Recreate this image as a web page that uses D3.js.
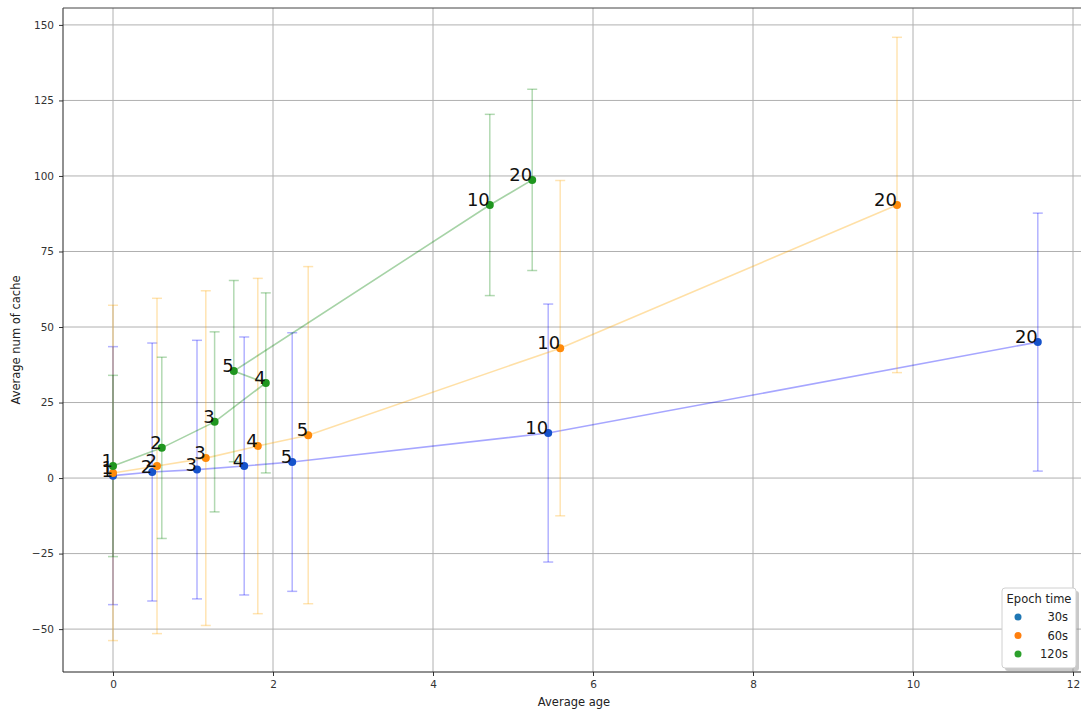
<!DOCTYPE html>
<html>
<head>
<meta charset="utf-8">
<script src="https://cdn.jsdelivr.net/npm/d3@7"></script>
<style>
  body { margin: 0; background: #fff; }
  svg { display: block; font-family: "DejaVu Sans", sans-serif; }
</style>
</head>
<body>
<svg id="chart" width="1081" height="714"></svg>
<script>
// ---- data ----
const pointLabels = ["1", "2", "3", "4", "5", "10", "20"];
const seriesNames = ["30s", "60s", "120s"];

const age30   = [0, 0.49, 1.05, 1.64, 2.24, 5.44, 11.56];
const cache30 = [0.8, 2.0, 2.8, 4.0, 5.3, 14.9, 45.0];
const err30   = [42.7, 42.7, 42.8, 42.7, 42.8, 42.7, 42.7];

const age60   = [0, 0.55, 1.16, 1.81, 2.44, 5.59, 9.80];
const cache60 = [1.7, 4.0, 6.6, 10.6, 14.2, 43.0, 90.4];
const err60   = [55.5, 55.5, 55.4, 55.5, 55.8, 55.5, 55.5];

const age120   = [0, 0.61, 1.27, 1.91, 1.51, 4.71, 5.24];
const cache120 = [4.0, 10.0, 18.6, 31.5, 35.4, 90.4, 98.7];
const err120   = [30.0, 30.0, 29.8, 29.8, 30.0, 30.0, 30.0];

const xTicks = [0, 2, 4, 6, 8, 10, 12];
const yTicks = [-50, -25, 0, 25, 50, 75, 100, 125, 150];

// ---- styles ----
const lineColors   = ["blue", "orange", "green"];
const markerColors = ["#1653cb", "#ff8a0a", "#1f961f"];
const legendColors = ["#1f77b4", "#ff7f0e", "#2ca02c"];

const series = [
  { name: seriesNames[0], x: age30,  y: cache30,  e: err30 },
  { name: seriesNames[1], x: age60,  y: cache60,  e: err60 },
  { name: seriesNames[2], x: age120, y: cache120, e: err120 }
];

const svg = d3.select("#chart");
const pL = 63, pR = 1085, pT = 8, pB = 672;

const x = d3.scaleLinear().domain([-0.625, 12.15]).range([pL, pR]);
const y = d3.scaleLinear().domain([-64.2, 155.6]).range([pB, pT]);

// clip
svg.append("defs").append("clipPath").attr("id", "clip")
  .append("rect").attr("x", pL).attr("y", pT).attr("width", pR - pL).attr("height", pB - pT);

// grid
const grid = svg.append("g");
grid.selectAll(".gx").data(xTicks).enter().append("line")
  .attr("x1", d => x(d)).attr("x2", d => x(d)).attr("y1", pT).attr("y2", pB)
  .attr("stroke", "#b0b0b0").attr("stroke-width", 1);
grid.selectAll(".gy").data(yTicks).enter().append("line")
  .attr("x1", pL).attr("x2", pR).attr("y1", d => y(d)).attr("y2", d => y(d))
  .attr("stroke", "#b0b0b0").attr("stroke-width", 1);

// axes
const xAxis = d3.axisBottom(x).tickValues(xTicks).tickSize(4).tickPadding(5).tickFormat(d3.format("d"));
const yAxis = d3.axisLeft(y).tickValues(yTicks).tickSize(4).tickPadding(5)
  .tickFormat(d => (d < 0 ? "\u2212" + Math.abs(d) : String(d)));

const gx = svg.append("g").attr("transform", `translate(0,${pB})`).call(xAxis);
const gy = svg.append("g").attr("transform", `translate(${pL},0)`).call(yAxis);
[gx, gy].forEach(g => {
  g.select(".domain").remove();
  g.selectAll(".tick line").attr("stroke", "#333");
  g.selectAll(".tick text").attr("fill", "#333").style("font-size", "10.5px")
    .style("font-family", "'DejaVu Sans', sans-serif");
});

// spines
svg.append("line").attr("x1", pL).attr("x2", pL).attr("y1", pT).attr("y2", pB).attr("stroke", "#222").attr("stroke-width", 1);
svg.append("line").attr("x1", pL).attr("x2", pR).attr("y1", pB).attr("y2", pB).attr("stroke", "#222").attr("stroke-width", 1);
svg.append("line").attr("x1", pL).attr("x2", pR).attr("y1", pT).attr("y2", pT).attr("stroke", "#444").attr("stroke-width", 1);

// axis labels
svg.append("text").attr("x", 574).attr("y", 706).attr("text-anchor", "middle")
  .style("font-size", "11.5px").attr("fill", "#222").text("Average age");
svg.append("text").attr("transform", `translate(20,${(pT + pB) / 2}) rotate(-90)`)
  .attr("text-anchor", "middle").style("font-size", "11.5px").attr("fill", "#222").text("Average num of cache");

// series
const plot = svg.append("g").attr("clip-path", "url(#clip)");
const line = d3.line().x(d => x(d[0])).y(d => y(d[1]));

series.forEach((s, i) => {
  const pts = s.x.map((v, k) => [v, s.y[k], s.e[k]]);
  const g = plot.append("g");
  pts.forEach(p => {
    g.append("line").attr("x1", x(p[0])).attr("x2", x(p[0]))
      .attr("y1", y(p[1] - p[2])).attr("y2", y(p[1] + p[2]))
      .attr("stroke", lineColors[i]).attr("stroke-opacity", 0.3).attr("stroke-width", 1.5);
    [p[1] - p[2], p[1] + p[2]].forEach(v => {
      g.append("line").attr("x1", x(p[0]) - 5).attr("x2", x(p[0]) + 5)
        .attr("y1", y(v)).attr("y2", y(v))
        .attr("stroke", lineColors[i]).attr("stroke-opacity", 0.3).attr("stroke-width", 1.5);
    });
  });
  g.append("path").datum(pts).attr("d", line).attr("fill", "none")
    .attr("stroke", lineColors[i]).attr("stroke-opacity", 0.35).attr("stroke-width", 1.6);
});

series.forEach((s, i) => {
  const pts = s.x.map((v, k) => [v, s.y[k]]);
  plot.append("g").selectAll("circle").data(pts).enter().append("circle")
    .attr("cx", d => x(d[0])).attr("cy", d => y(d[1])).attr("r", 4)
    .attr("fill", markerColors[i]);
});

// point labels
series.forEach((s, i) => {
  const pts = s.x.map((v, k) => [v, s.y[k], pointLabels[k]]);
  svg.append("g").selectAll("text").data(pts).enter().append("text")
    .attr("x", d => x(d[0])).attr("y", d => y(d[1]) + 1)
    .attr("text-anchor", "end").style("font-size", "18px").attr("fill", "#111")
    .text(d => d[2]);
});

// legend
const lg = svg.append("g");
const lx = 1002, ly = 588, lw = 74, lh = 80;
lg.append("rect").attr("x", lx + 3).attr("y", ly + 3).attr("width", lw).attr("height", lh)
  .attr("rx", 3).attr("fill", "#888").attr("opacity", 0.45);
lg.append("rect").attr("x", lx).attr("y", ly).attr("width", lw).attr("height", lh)
  .attr("rx", 3).attr("fill", "#fff").attr("stroke", "#d0d0d0").attr("stroke-width", 1);
lg.append("text").attr("x", lx + lw / 2).attr("y", ly + 15).attr("text-anchor", "middle")
  .style("font-size", "11.5px").attr("fill", "#222").text("Epoch time");
seriesNames.forEach((n, i) => {
  const yy = ly + 29 + i * 18.5;
  lg.append("circle").attr("cx", lx + 16).attr("cy", yy).attr("r", 3.5).attr("fill", legendColors[i]);
  lg.append("text").attr("x", lx + 66).attr("y", yy + 4).attr("text-anchor", "end")
    .style("font-size", "11.5px").attr("fill", "#222").text(n);
});
</script>
</body>
</html>
